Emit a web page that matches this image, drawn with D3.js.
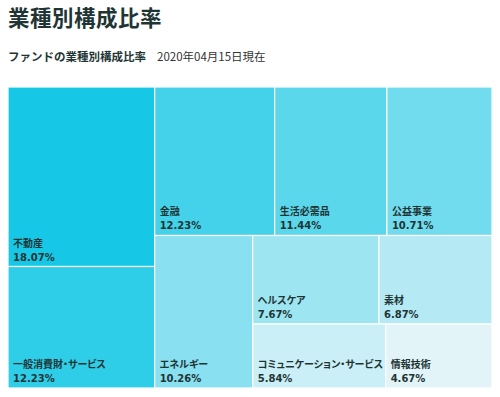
<!DOCTYPE html>
<html><head><meta charset="utf-8">
<script src="https://cdn.jsdelivr.net/npm/d3@7"></script>
<style>
body{margin:0;background:#fff;}
svg{display:block;}
.jp{font-feature-settings:"palt" 1;}
</style></head>
<body>
<svg id="chart" width="500" height="397"></svg>
<script>
const categories = ["不動産","一般消費財・サービス","金融","生活必需品","公益事業","エネルギー","ヘルスケア","素材","コミュニケーション・サービス","情報技術"];
const values = [18.07,12.23,12.23,11.44,10.71,10.26,7.67,6.87,5.84,4.67];
const title = "業種別構成比率";
const subtitle = "ファンドの業種別構成比率";
const dateLabel = "2020年04月15日現在";

const svg = d3.select("#chart");
const jp = "'Noto Sans CJK JP','Noto Sans',sans-serif";

svg.append("text").attr("x",8).attr("y",26).attr("font-family",jp).attr("font-size",21.5)
  .attr("font-weight","bold").attr("fill","#1f3535").attr("letter-spacing",0.5).text(title);
svg.append("text").attr("x",8).attr("y",61).attr("font-family",jp).attr("font-size",11.5)
  .attr("font-weight","bold").attr("fill","#1f3535").text(subtitle);
svg.append("text").attr("x",157).attr("y",61).attr("font-family",jp).attr("font-size",11.5)
  .attr("fill","#333").text(dateLabel);

// alternating-direction squarified tiling
function altSquarify(parent, x0, y0, x1, y1){
  const nodes = parent.children;
  let i = 0, vertical = true, total = parent.value;
  while(i < nodes.length){
    const dx = x1-x0, dy = y1-y0;
    let best = Infinity, j = i, sum = 0;
    if(i === nodes.length-1){ j = i+1; sum = nodes[i].value; }
    else {
      for(let k=i;k<nodes.length;k++){
        const s = sum + nodes[k].value;
        let worst = 0;
        if(vertical){
          const w = dx*s/total;
          for(let m=i;m<=k;m++){ const h = dy*nodes[m].value/s; worst = Math.max(worst, w/h, h/w); }
        } else {
          const h = dy*s/total;
          for(let m=i;m<=k;m++){ const w = dx*nodes[m].value/s; worst = Math.max(worst, w/h, h/w); }
        }
        if(worst <= best){ best = worst; sum = s; j = k+1; } else break;
      }
    }
    const row = {children: nodes.slice(i,j), value: sum};
    if(j === nodes.length){
      if(vertical) d3.treemapSlice(row, x0, y0, x1, y1); else d3.treemapDice(row, x0, y0, x1, y1);
    } else if(vertical){
      const nx = x0 + dx*sum/total;
      d3.treemapSlice(row, x0, y0, nx, y1); x0 = nx;
    } else {
      const ny = y0 + dy*sum/total;
      d3.treemapDice(row, x0, y0, x1, ny); y0 = ny;
    }
    total -= sum; i = j; vertical = !vertical;
  }
}

const data = {children: categories.map((c,i)=>({name:c, value:values[i], idx:i}))};
const root = d3.hierarchy(data).sum(d=>d.value || 0);
d3.treemap().tile(altSquarify).size([484,301]).round(false)(root);

const color = d3.scaleLinear().domain([0, categories.length-1]).range(["#17c8e6","#e2f4f8"]);

const g = svg.append("g").attr("transform","translate(8,87)");
const cell = g.selectAll("g.cell").data(root.leaves()).join("g").attr("class","cell");
cell.append("rect")
  .attr("x",d=>d.x0).attr("y",d=>d.y0)
  .attr("width",d=>d.x1-d.x0).attr("height",d=>d.y1-d.y0)
  .attr("fill",d=>color(d.data.idx)).attr("stroke","#fff").attr("stroke-width",1.2);
cell.append("text").attr("class","jp").attr("x",d=>d.x0+5).attr("y",d=>d.y1-20)
  .attr("font-family",jp).attr("font-size",10).attr("font-weight","bold").attr("fill","#1f3535")
  .text(d=>d.data.name);
cell.append("text").attr("x",d=>d.x0+5).attr("y",d=>d.y1-6)
  .attr("font-family","'DejaVu Sans',Verdana,sans-serif").attr("font-size",10).attr("font-weight","bold").attr("fill","#1f3535")
  .text(d=>d3.format(".2f")(d.data.value)+"%");
</script>
</body></html>
